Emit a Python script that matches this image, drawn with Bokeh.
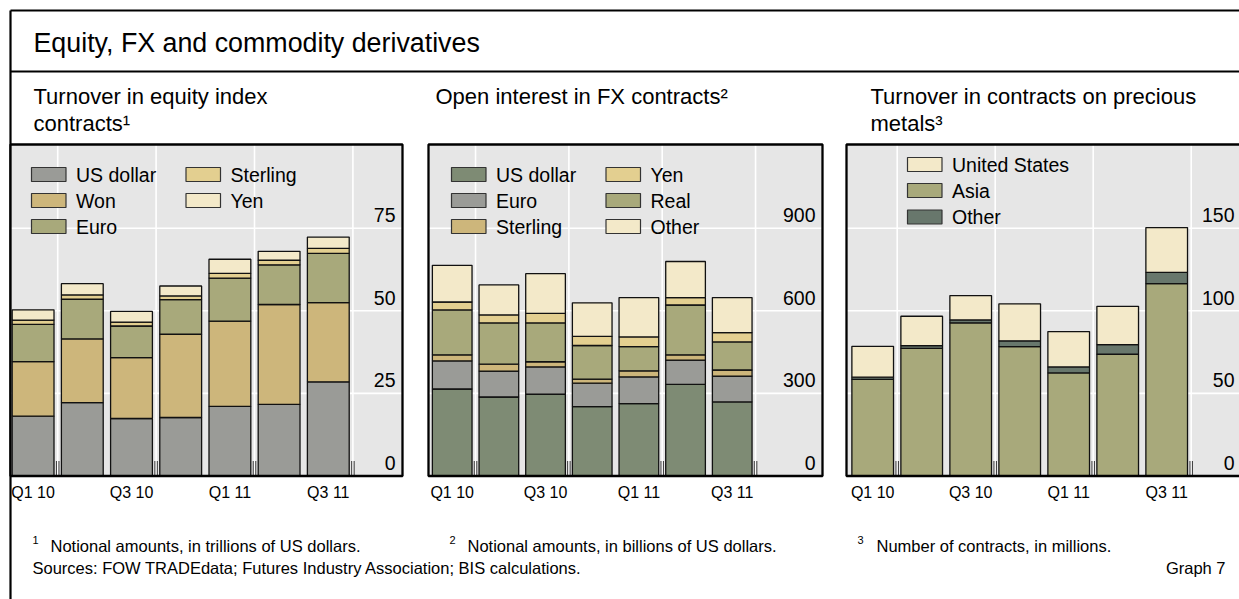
from bokeh.plotting import figure
from bokeh.models import Range1d, ColumnDataSource
from bokeh.core.properties import value
from bokeh.embed import file_html
from bokeh.resources import INLINE

# ---------------- data ----------------
quarters = ["Q1 10", "Q2 10", "Q3 10", "Q4 10", "Q1 11", "Q2 11", "Q3 11"]
x_tick_labels = ["Q1 10", "Q3 10", "Q1 11", "Q3 11"]
grid_between = [0.5, 2.5, 4.5, 6.5]

# Panel 1: turnover in equity index contracts (USD trn)
eq_names = ["US dollar", "Won", "Euro", "Sterling", "Yen"]
eq_usd = [18.1, 22.2, 17.4, 17.7, 21.1, 21.7, 28.5]
eq_won = [16.5, 19.3, 18.4, 25.2, 25.8, 30.2, 24.0]
eq_euro = [11.3, 12.0, 9.6, 10.5, 13.0, 12.0, 14.9]
eq_sterling = [1.3, 1.3, 1.2, 1.1, 1.4, 1.4, 1.5]
eq_yen = [3.1, 3.4, 3.2, 3.0, 4.3, 2.7, 3.4]
eq_ticks = [0, 25, 50, 75]

# Panel 2: open interest in FX contracts (USD bn)
fx_names = ["US dollar", "Euro", "Sterling", "Real", "Yen", "Other"]
fx_usd = [316, 287, 297, 252, 263, 333, 269]
fx_euro = [102, 94, 99, 85, 97, 88, 94]
fx_sterling = [22, 25, 19, 15, 22, 19, 22]
fx_real = [163, 150, 141, 122, 88, 181, 102]
fx_yen = [29, 29, 35, 33, 35, 27, 34]
fx_other = [133, 109, 144, 122, 143, 131, 127]
fx_ticks = [0, 300, 600, 900]

# Panel 3: turnover in contracts on precious metals (millions)
pm_names = ["Asia", "Other", "United States"]
pm_asia = [58.5, 77.3, 92.7, 78.3, 62.4, 73.7, 116.5]
pm_other = [1.3, 1.6, 1.8, 3.5, 3.6, 5.8, 6.8]
pm_us = [18.7, 17.8, 14.7, 22.4, 21.4, 23.2, 27.1]
pm_ticks = [0, 50, 100, 150]

# ---------------- style ----------------
C_GRAY = "#9a9b97"
C_TAN = "#cdb67b"
C_OLIVE = "#a8a97b"
C_LTAN = "#e3cf90"
C_CREAM = "#f3e9c9"
C_DKGREEN = "#7e8b74"
C_SLATE = "#68776c"
PANEL_BG = "#e6e6e6"
FONT = value("Liberation Sans")

W, H = 1239, 599
OX, OY = 0, 0

p = figure(width=W, height=H, output_backend="svg", toolbar_location=None,
           x_range=Range1d(OX, OX + W), y_range=Range1d(OY + H, OY),
           x_axis_location=None, y_axis_location=None, min_border=0,
           outline_line_color=None, background_fill_color="white",
           border_fill_color="white")
p.grid.visible = False


def txt(x, y, s, size, align="left", xr="default", yr="default", yoff=0):
    p.text(x=x, y=y, text=s, text_font=FONT, text_font_size=size, text_align=align,
           text_baseline="middle", text_color="black", x_range_name=xr, y_range_name=yr,
           y_offset=yoff)


# outer frame
p.segment(x0=[10, 10, 10], y0=[10, 10, 71], x1=[10, 1260, 1260], y1=[610, 10, 71],
          line_color="black", line_width=2.2)
txt([33], [42], ["Equity, FX and commodity derivatives"], "26.8px")

panels = [
    dict(name="eq", L=10, R=402, T=144, B=475.5, a=32.6, b=49.2, y0=475.5, k=82.6 / 25,
         names=eq_names, vals=[eq_usd, eq_won, eq_euro, eq_sterling, eq_yen],
         colors=[C_GRAY, C_TAN, C_OLIVE, C_LTAN, C_CREAM], ticks=eq_ticks,
         title=["Turnover in equity index", "contracts\u00b9"], tx=33,
         legend=[("US dollar", C_GRAY, 31, 174), ("Won", C_TAN, 31, 200), ("Euro", C_OLIVE, 31, 226),
                 ("Sterling", C_LTAN, 185.5, 174), ("Yen", C_CREAM, 185.5, 200)]),
    dict(name="fx", L=428, R=822, T=144, B=475.5, a=451.7, b=46.67, y0=475.5, k=82.6 / 300,
         names=fx_names, vals=[fx_usd, fx_euro, fx_sterling, fx_real, fx_yen, fx_other],
         colors=[C_DKGREEN, C_GRAY, C_TAN, C_OLIVE, C_LTAN, C_CREAM], ticks=fx_ticks,
         title=["Open interest in FX contracts\u00b2"], tx=435,
         legend=[("US dollar", C_DKGREEN, 451, 174), ("Euro", C_GRAY, 451, 200), ("Sterling", C_TAN, 451, 226),
                 ("Yen", C_LTAN, 605.5, 174), ("Real", C_OLIVE, 605.5, 200), ("Other", C_CREAM, 605.5, 226)]),
    dict(name="pm", L=846, R=1241, T=144, B=475.5, a=872.2, b=49.0, y0=475.5, k=82.6 / 50,
         names=pm_names, vals=[pm_asia, pm_other, pm_us],
         colors=[C_OLIVE, C_SLATE, C_CREAM], ticks=pm_ticks,
         title=["Turnover in contracts on precious", "metals\u00b3"], tx=870,
         legend=[("United States", C_CREAM, 907, 164), ("Asia", C_OLIVE, 907, 190), ("Other", C_SLATE, 907, 216.5)]),
]

for P in panels:
    xr, yr = P["name"] + "_x", P["name"] + "_y"
    a, b, y0, k = P["a"], P["b"], P["y0"], P["k"]
    p.extra_x_ranges[xr] = Range1d((OX - a) / b, (OX + W - a) / b)
    p.extra_y_ranges[yr] = Range1d((y0 - (OY + H)) / k, (y0 - OY) / k)
    L, R, T, B = P["L"], P["R"], P["T"], P["B"]

    # subtitle
    for j, line in enumerate(P["title"]):
        txt([P["tx"]], [95.5 + 27.5 * j], [line], "22px")

    # panel background
    p.quad(left=[L], right=[R], top=[T], bottom=[B], fill_color=PANEL_BG, line_color=None)
    # horizontal grid
    gt = [t for t in P["ticks"] if t > 0]
    p.segment(x0=[L] * len(gt), x1=[R] * len(gt), y0=gt, y1=gt, line_color="white",
              line_width=1.6, y_range_name=yr)
    # vertical grid
    p.segment(x0=grid_between, x1=grid_between, y0=[T] * 4, y1=[B] * 4, line_color="white",
              line_width=1.6, x_range_name=xr)
    # tick marks at the bottom
    p.segment(x0=grid_between, x1=grid_between, y0=[B - 15] * 4, y1=[B] * 4, line_color="#444444",
              line_width=3.6, x_range_name=xr)
    p.segment(x0=grid_between, x1=grid_between, y0=[B - 15] * 4, y1=[B] * 4, line_color="white",
              line_width=1.4, x_range_name=xr)

    # stacked bars
    data = dict(x=list(range(len(quarters))))
    for nm, v in zip(P["names"], P["vals"]):
        data[nm] = v
    src = ColumnDataSource(data)
    p.vbar_stack(P["names"], x="x", width=0.85, source=src, fill_color=P["colors"],
                 line_color="#111111", line_width=1.3, x_range_name=xr, y_range_name=yr)

    # y tick labels inside the panel
    txt([R - 7] * len(P["ticks"]), P["ticks"], [str(t) for t in P["ticks"]], "19.5px",
        align="right", yr=yr, yoff=-13)
    # x tick labels
    xi = [quarters.index(q) for q in x_tick_labels]
    txt(xi, [492] * len(xi), x_tick_labels, "16px", align="center", xr=xr)

    # legend
    for lab, col, lx, ly in P["legend"]:
        p.quad(left=[lx], right=[lx + 34.5], top=[ly - 7], bottom=[ly + 7], fill_color=col,
               line_color="#333333", line_width=1.2)
        txt([lx + 44.5], [ly], [lab], "19.5px")

    # panel border
    p.quad(left=[L], right=[R], top=[T], bottom=[B], fill_color=None, line_color="black",
           line_width=2.3)

# footnotes
for sx, tx, s, sup in [(32, 50, "Notional amounts, in trillions of US dollars.", "1"),
                       (449, 467, "Notional amounts, in billions of US dollars.", "2"),
                       (857, 876, "Number of contracts, in millions.", "3")]:
    txt([sx], [539], [sup], "11px")
    txt([tx], [545], [s], "16.5px")
txt([32], [567], ["Sources: FOW TRADEdata; Futures Industry Association; BIS calculations."], "16.5px")
txt([1225], [567], ["Graph 7"], "16.5px", align="right")

open("out.html", "w").write(file_html(p, INLINE))
